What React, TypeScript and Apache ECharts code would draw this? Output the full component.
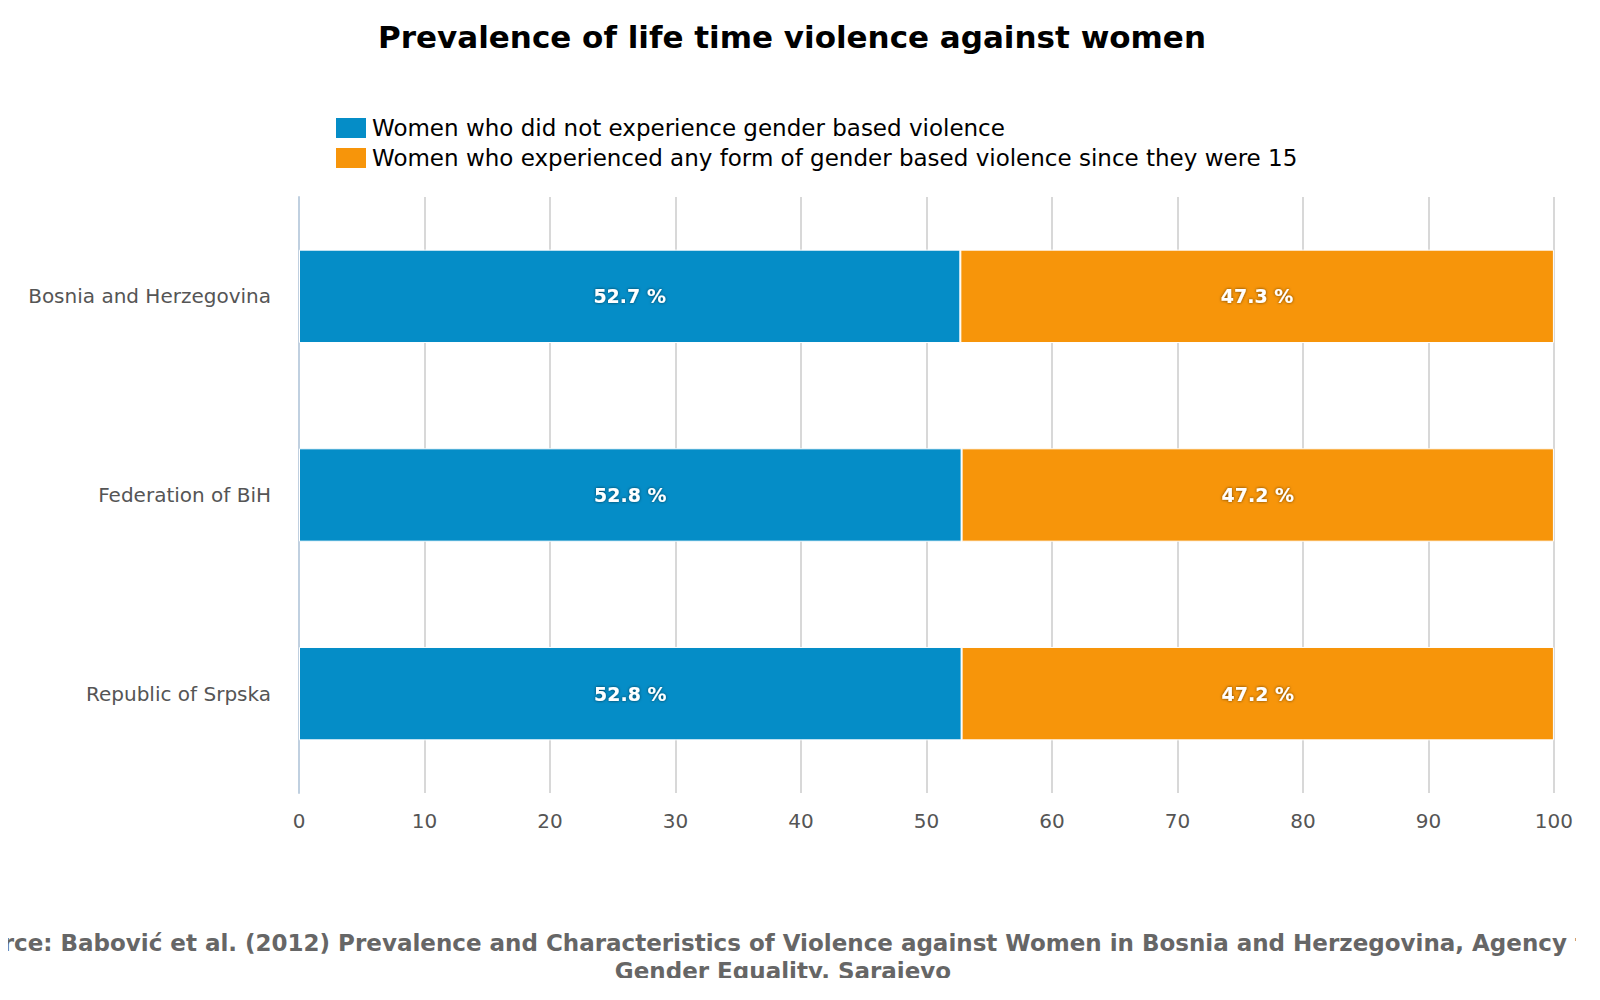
import { useEffect, useRef } from 'react';
import * as echarts from 'echarts';

const categories = ['Bosnia and Herzegovina', 'Federation of BiH', 'Republic of Srpska'];
const notExperienced = [52.7, 52.8, 52.8];
const experienced = [47.3, 47.2, 47.2];
const seriesNames = [
  'Women who did not experience gender based violence',
  'Women who experienced any form of gender based violence since they were 15',
];
const FONT = 'DejaVu Sans, Verdana, sans-serif';

export default function App() {
  const ref = useRef<HTMLDivElement>(null);

  useEffect(() => {
    if (!ref.current) return;
    const chart = echarts.init(ref.current, null, { renderer: 'svg' });
    const label = {
      show: true,
      position: 'inside',
      formatter: (p: any) => p.value.toFixed(1) + ' %',
      color: '#fff',
      fontWeight: 'bold',
      fontSize: 19,
      fontFamily: FONT,
      textShadowColor: 'rgba(0,0,0,0.6)',
      textShadowBlur: 3,
    };
    chart.setOption({
      animation: false,
      textStyle: { fontFamily: FONT },
      title: {
        text: 'Prevalence of life time violence against women',
        left: 'center',
        top: 8,
        textStyle: { fontSize: 31, fontWeight: 'bold', color: '#000', fontFamily: FONT },
      },
      legend: {
        orient: 'vertical',
        left: 321,
        top: 103,
        itemWidth: 32,
        itemHeight: 22,
        itemGap: 6,
        icon: 'rect',
        textStyle: { fontSize: 23, color: '#000', fontFamily: FONT },
        data: seriesNames,
      },
      grid: { left: 291, right: 19, top: 189, bottom: 185 },
      xAxis: {
        type: 'value',
        min: 0,
        max: 100,
        interval: 10,
        axisLine: { show: false },
        axisTick: { show: false },
        splitLine: { lineStyle: { color: '#d8d8d8', width: 2 } },
        axisLabel: { fontSize: 20, color: '#555', margin: 18 },
      },
      yAxis: {
        type: 'category',
        data: categories,
        inverse: true,
        axisLine: { lineStyle: { color: '#c0d0e0', width: 2 } },
        axisTick: { length: 18, lineStyle: { color: '#c0d0e0', width: 2 } },
        axisLabel: { fontSize: 20, color: '#555', margin: 28 },
      },
      graphic: [
        {
          type: 'text',
          x: 775,
          y: 921,
          style: {
            text: 'Source: Babović et al. (2012) Prevalence and Characteristics of Violence against Women in Bosnia and Herzegovina, Agency for\nGender Equality, Sarajevo',
            fontSize: 23,
            fontWeight: 'bold',
            fill: '#666',
            fontFamily: FONT,
            align: 'center',
            lineHeight: 28,
          },
        },
      ],
      series: [
        {
          name: seriesNames[0],
          type: 'bar',
          stack: 'a',
          data: notExperienced,
          barWidth: '47%',
          itemStyle: { color: '#058dc7', borderColor: '#fff', borderWidth: 1 },
          label,
        },
        {
          name: seriesNames[1],
          type: 'bar',
          stack: 'a',
          data: experienced,
          itemStyle: { color: '#f7950a', borderColor: '#fff', borderWidth: 1 },
          label,
        },
      ],
    });
    return () => chart.dispose();
  }, []);

  return <div ref={ref} style={{ width: 1568, height: 970 }} />;
}
